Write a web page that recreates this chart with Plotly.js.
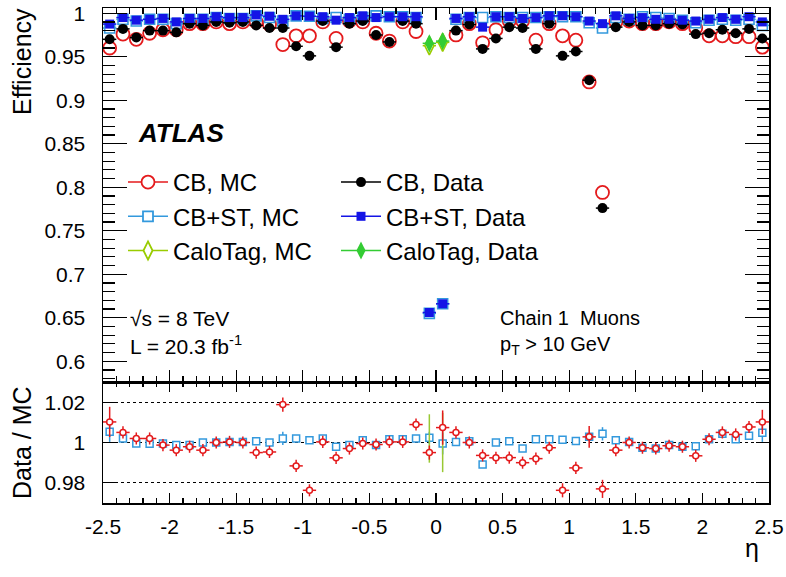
<!DOCTYPE html>
<html>
<head>
<meta charset="utf-8">
<script src="https://cdn.plot.ly/plotly-3.0.1.min.js"></script>
<style>html,body{margin:0;padding:0;background:#fff;}#chart{width:786px;height:577px;}</style>
</head>
<body>
<div id="chart"></div>
<script>
// ---- data ----
const eta = [-2.45,-2.35,-2.25,-2.15,-2.05,-1.95,-1.85,-1.75,-1.65,-1.55,-1.45,-1.35,-1.25,-1.15,-1.05,-0.95,-0.85,-0.75,-0.65,-0.55,-0.45,-0.35,-0.25,-0.15,-0.05,0.05,0.15,0.25,0.35,0.45,0.55,0.65,0.75,0.85,0.95,1.05,1.15,1.25,1.35,1.45,1.55,1.65,1.75,1.85,1.95,2.05,2.15,2.25,2.35,2.45];
const binHalfWidth = 0.05;

const cbMC = [0.960,0.976,0.970,0.977,0.981,0.981,0.988,0.988,0.990,0.988,0.990,0.990,0.987,0.964,0.974,0.974,0.990,0.971,0.991,0.990,0.977,0.968,0.990,0.979,null,null,0.975,0.988,0.966,0.981,0.991,0.991,0.969,0.988,0.974,0.969,0.921,0.794,0.990,0.991,0.988,0.988,0.990,0.988,0.983,0.974,0.974,0.973,0.973,0.961];
const cbData = [0.970,0.982,0.972,0.980,0.980,0.978,0.988,0.986,0.990,0.989,0.990,0.986,0.983,0.983,0.962,0.951,0.991,0.961,0.988,0.991,0.975,0.967,0.991,0.988,null,null,0.980,0.987,0.959,0.971,0.984,0.983,0.959,0.988,0.951,0.956,0.923,0.776,0.984,0.990,0.986,0.986,0.988,0.987,0.976,0.977,0.981,0.977,0.982,0.971];
const cbstMC = [0.983,0.993,0.991,0.993,0.993,0.988,0.993,0.993,0.995,0.994,0.994,0.997,0.995,0.991,0.997,0.9965,0.994,0.995,0.993,0.995,0.997,0.996,0.996,0.995,0.655,0.666,0.993,0.995,0.995,0.996,0.995,0.995,0.995,0.996,0.996,0.996,0.989,0.983,0.995,0.993,0.996,0.995,0.994,0.992,0.989,0.992,0.993,0.992,0.993,0.986];
const cbstData = [0.9875,0.995,0.992,0.993,0.994,0.990,0.994,0.994,0.996,0.995,0.995,0.998,0.9965,0.993,0.997,0.9965,0.996,0.992,0.995,0.997,0.995,0.996,0.996,0.996,0.656,0.666,0.994,0.996,0.984,0.996,0.996,0.994,0.995,0.997,0.997,0.996,0.991,0.988,0.997,0.994,0.995,0.993,0.993,0.992,0.991,0.993,0.995,0.993,0.996,0.990];
const caloEta = [-0.05, 0.05];
const caloMC = [0.9627, 0.9665];
const caloData = [0.9654, 0.968];

const ratioCB = [1.0102,1.005,1.002,1.002,0.9987,0.9962,0.9979,0.9962,1.0,1.0003,1.0,0.995,0.9953,1.0188,0.9884,0.9763,1.0003,0.9924,0.997,0.9995,0.999,1.0003,1.0003,1.0089,0.995,1.0074,1.005,1.0,0.9936,0.9924,0.9925,0.990,0.992,0.9974,0.9763,0.9874,1.0028,0.977,0.9962,1.0,0.9974,0.997,0.9984,0.9979,0.9934,1.0016,1.005,1.004,1.0077,1.0102];
const ratioCBErr = [0.0075,0.003,0.003,0.003,0.003,0.003,0.003,0.003,0.003,0.003,0.003,0.003,0.003,0.0035,0.003,0.003,0.003,0.003,0.003,0.003,0.003,0.003,0.003,0.003,0.0035,0.0085,0.003,0.003,0.003,0.003,0.003,0.003,0.003,0.003,0.0035,0.003,0.0054,0.0045,0.003,0.003,0.003,0.003,0.003,0.003,0.003,0.003,0.003,0.003,0.003,0.006];
const ratioCBST = [1.0053,1.002,0.9995,0.9994,0.9995,0.9987,0.9987,1.0,1.0,1.0003,1.0003,1.0006,1.0,1.002,1.002,1.0011,1.002,0.9979,0.9987,1.0011,0.9987,1.0016,1.0016,1.002,1.0023,0.9995,1.0003,1.0006,0.9891,1.0,1.0006,0.997,1.0016,1.0016,1.0014,1.0008,1.0028,1.0043,1.0011,1.0003,0.9974,0.997,0.9987,0.9979,0.9982,1.0016,1.0043,1.0016,1.0033,1.0048];
const ratioCBSTErr = [0.005,0.001,0.001,0.001,0.001,0.001,0.001,0.001,0.001,0.001,0.001,0.001,0.001,0.0033,0.001,0.001,0.001,0.001,0.001,0.001,0.001,0.001,0.001,0.001,0.003,0.0054,0.001,0.001,0.001,0.001,0.001,0.001,0.001,0.001,0.001,0.001,0.001,0.0033,0.001,0.001,0.001,0.001,0.001,0.001,0.001,0.001,0.001,0.001,0.0015,0.0045];
const ratioCalo = [1.002, 1.0];
const ratioCaloErr = [0.012, 0.0147];

const etaTickVals = [-2.5,-2,-1.5,-1,-0.5,0,0.5,1,1.5,2,2.5];
const etaTickText = ['-2.5','-2','-1.5','-1','-0.5','0','0.5','1','1.5','2','2.5'];

// ---- style ----
const RED = '#e41a1c', LBLUE = '#3399dd', BLUE = '#1414e6', BLACK = '#000000', GMC = '#99cc00', GDATA = '#33cc33', GRAT = '#99c833';
const FONT = 'Liberation Sans, Arial, sans-serif';

function ex(color){ return {type:'constant', value:binHalfWidth, width:0, thickness:1.5, color:color}; }

const traces = [];
// top panel
traces.push({x:eta, y:cbMC, type:'scatter', mode:'markers', showlegend:false, xaxis:'x', yaxis:'y',
  marker:{symbol:'circle', size:13, color:'#ffffff', line:{width:1.8, color:RED}}, error_x:ex(RED)});
traces.push({x:eta, y:cbstMC, type:'scatter', mode:'markers', showlegend:false, xaxis:'x', yaxis:'y',
  marker:{symbol:'square', size:10, color:'#ffffff', line:{width:1.6, color:LBLUE}}, error_x:ex(LBLUE)});
traces.push({x:caloEta, y:caloMC, type:'scatter', mode:'markers', showlegend:false, xaxis:'x', yaxis:'y',
  marker:{symbol:'diamond-tall', size:13, color:'#ffffff', line:{width:1.6, color:GMC}}, error_x:ex(GMC)});
traces.push({x:eta, y:cbData, type:'scatter', mode:'markers', showlegend:false, xaxis:'x', yaxis:'y',
  marker:{symbol:'circle', size:10, color:BLACK}, error_x:ex(BLACK)});
traces.push({x:eta, y:cbstData, type:'scatter', mode:'markers', showlegend:false, xaxis:'x', yaxis:'y',
  marker:{symbol:'square', size:9, color:BLUE}, error_x:ex(BLUE)});
traces.push({x:caloEta, y:caloData, type:'scatter', mode:'markers', showlegend:false, xaxis:'x', yaxis:'y',
  marker:{symbol:'diamond-tall', size:13, color:GDATA}, error_x:ex(GDATA)});

// ratio panel
traces.push({x:eta, y:ratioCBST, type:'scatter', mode:'markers', showlegend:false, xaxis:'x2', yaxis:'y2',
  marker:{symbol:'square', size:7, color:'#ffffff', line:{width:1.5, color:LBLUE}},
  error_y:{type:'data', array:ratioCBSTErr, width:0, thickness:1.5, color:LBLUE}});
traces.push({x:caloEta, y:ratioCalo, type:'scatter', mode:'markers', showlegend:false, xaxis:'x2', yaxis:'y2',
  marker:{symbol:'circle', size:1, color:GRAT},
  error_y:{type:'data', array:ratioCaloErr, width:0, thickness:1.5, color:GRAT}});
traces.push({x:eta, y:ratioCB, type:'scatter', mode:'markers', showlegend:false, xaxis:'x2', yaxis:'y2',
  marker:{symbol:'circle', size:6, color:'#ffffff', line:{width:1.5, color:RED}},
  error_x:ex(RED),
  error_y:{type:'data', array:ratioCBErr, width:0, thickness:1.5, color:RED}});

// legend entries
function leg(name, color, symbol, size, open, legendId){
  return {x:[null], y:[null], type:'scatter', mode:'lines+markers', name:name, legend:legendId,
    xaxis:'x', yaxis:'y', line:{color:color, width:1.5},
    marker:{symbol:symbol, size:size, color: open ? '#ffffff' : color, line:{width: open?1.8:0, color:color}}};
}
traces.push(leg('CB, MC', RED, 'circle', 13, true, 'legend'));
traces.push(leg('CB+ST, MC', LBLUE, 'square', 10, true, 'legend'));
traces.push(leg('CaloTag, MC', GMC, 'diamond-tall', 13, true, 'legend'));
traces.push(leg('CB, Data', BLACK, 'circle', 10, false, 'legend2'));
traces.push(leg('CB+ST, Data', BLUE, 'square', 9, false, 'legend2'));
traces.push(leg('CaloTag, Data', GDATA, 'diamond-tall', 13, false, 'legend2'));

const L = 103, R = 17, T = 8, B = 74, W = 786, H = 577;
const plotH = H - T - B;
const split = 121 / plotH;

function px2x(p){ return (p - L) / (W - L - R); }
function py2y(p){ return (H - B - p) / plotH; }

const axBase = {showline:true, linecolor:'#000', linewidth:1.5, mirror:'allticks', ticks:'inside',
  tickcolor:'#000', tickwidth:1.2, zeroline:false, showgrid:false,
  tickfont:{family:FONT, size:21, color:'#000'}};

const layout = {
  width:W, height:H, margin:{l:L, r:R, t:T, b:B}, paper_bgcolor:'#fff', plot_bgcolor:'#fff',
  font:{family:FONT, color:'#000'},
  xaxis: Object.assign({}, axBase, {domain:[0,1], anchor:'y', range:[-2.5,2.5], dtick:0.5, tick0:0,
     ticklen:12, showticklabels:false, minor:{dtick:0.1, ticklen:6, ticks:'inside', tickcolor:'#000', tickwidth:1.2}}),
  yaxis: Object.assign({}, axBase, {domain:[split,1], anchor:'x', range:[0.5761,1.006], dtick:0.05, tick0:0,
     ticklen:24, ticklabelstandoff:12, minor:{dtick:0.01, ticklen:12, ticks:'inside', tickcolor:'#000', tickwidth:1.2}}),
  xaxis2: Object.assign({}, axBase, {domain:[0,1], anchor:'y2', range:[-2.5,2.5], matches:'x',
     tickmode:'array', tickvals:etaTickVals, ticktext:etaTickText,
     ticklen:10, ticklabelstandoff:4,
     minor:{tickmode:'linear', tick0:0, dtick:0.1, ticklen:5, ticks:'inside', tickcolor:'#000', tickwidth:1.2}}),
  yaxis2: Object.assign({}, axBase, {domain:[0,split], anchor:'x2', range:[0.97,1.03], dtick:0.02, tick0:0,
     ticklen:13, ticklabelstandoff:12, tickformat:'.2~f', showgrid:true, gridcolor:'#000', griddash:'dot', gridwidth:1}),
  legend: {x:px2x(123), y:py2y(160), xanchor:'left', yanchor:'top', bgcolor:'rgba(0,0,0,0)', borderwidth:0,
     itemwidth:40, font:{family:FONT, size:24, color:'#000'}, tracegroupgap:0, itemclick:false},
  legend2: {x:px2x(336), y:py2y(160), xanchor:'left', yanchor:'top', bgcolor:'rgba(0,0,0,0)', borderwidth:0,
     itemwidth:40, font:{family:FONT, size:24, color:'#000'}, tracegroupgap:0, itemclick:false},
  annotations: [
    {text:'Efficiency', xref:'paper', yref:'paper', x:px2x(22), y:py2y(62), textangle:-90, showarrow:false,
     xanchor:'center', yanchor:'middle', font:{family:FONT, size:25}},
    {text:'Data / MC', xref:'paper', yref:'paper', x:px2x(22), y:py2y(443), textangle:-90, showarrow:false,
     xanchor:'center', yanchor:'middle', font:{family:FONT, size:25}},
    {text:'η', xref:'paper', yref:'paper', x:px2x(752), y:py2y(548), showarrow:false,
     xanchor:'center', yanchor:'middle', font:{family:FONT, size:25}},
    {text:'<b><i>ATLAS</i></b>', xref:'paper', yref:'paper', x:px2x(136), y:py2y(133), showarrow:false,
     xanchor:'left', yanchor:'middle', font:{family:FONT, size:26}},
    {text:'√s = 8 TeV', xref:'paper', yref:'paper', x:px2x(128), y:py2y(318), showarrow:false,
     xanchor:'left', yanchor:'middle', font:{family:FONT, size:21}},
    {text:'L = 20.3 fb<sup>-1</sup>', xref:'paper', yref:'paper', x:px2x(128), y:py2y(345), showarrow:false,
     xanchor:'left', yanchor:'middle', font:{family:FONT, size:21}},
    {text:'Chain 1\u00a0 Muons', xref:'paper', yref:'paper', x:px2x(498), y:py2y(318), showarrow:false,
     xanchor:'left', yanchor:'middle', font:{family:FONT, size:20}},
    {text:'p<sub>T</sub> > 10 GeV', xref:'paper', yref:'paper', x:px2x(498), y:py2y(345), showarrow:false,
     xanchor:'left', yanchor:'middle', font:{family:FONT, size:20}}
  ]
};

Plotly.newPlot('chart', traces, layout, {displayModeBar:false, staticPlot:true});
</script>
</body>
</html>
